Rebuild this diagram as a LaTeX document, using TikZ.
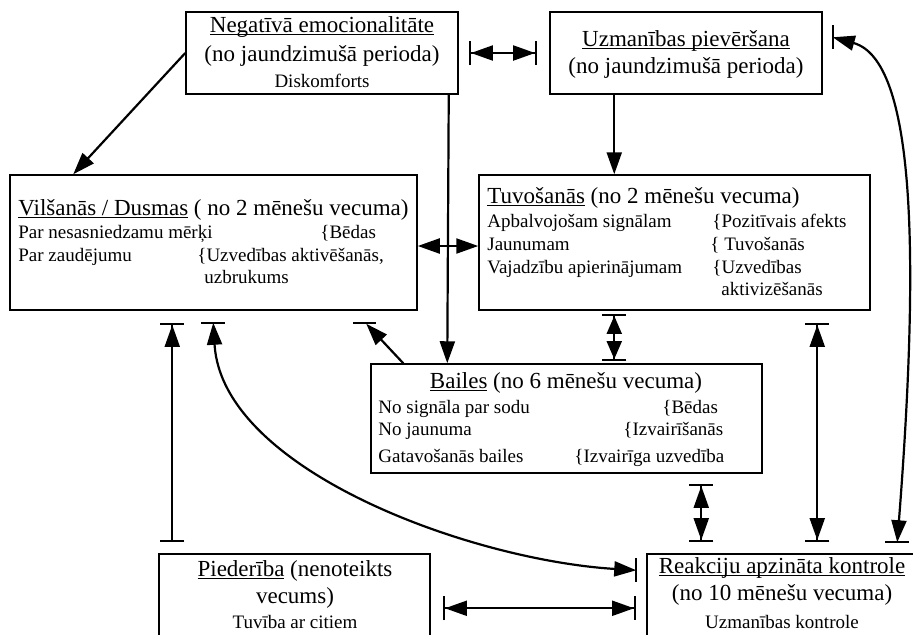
\documentclass[tikz,border=0pt]{standalone}
\usepackage{fontspec}
\setmainfont{Liberation Serif}
\usetikzlibrary{arrows.meta,calc,fit}
\newsavebox\ulbox
\newcommand{\ulx}[1]{\sbox\ulbox{#1}\rlap{\rule[-1.6pt]{\wd\ulbox}{0.55pt}}\usebox\ulbox}
\tikzset{
  box/.style={draw, line width=0.75pt, inner sep=0pt},
  big/.style={inner sep=0pt, font=\fontsize{11.5}{14}\selectfont},
  small/.style={inner sep=0pt, font=\fontsize{9.5}{11.5}\selectfont},
  conn/.style={line width=1.1pt},
  arr/.style={conn, -{Triangle[length=11pt,width=7.5pt]}},
  both/.style={conn, {Triangle[length=11pt,width=7.5pt]}-{Triangle[length=11pt,width=7.5pt]}},
  bothbar/.style={conn, {Bar[width=12pt]Triangle[length=11pt,width=7.5pt]}-{Triangle[length=11pt,width=7.5pt]Bar[width=12pt]}},
  shortbar/.style={conn, {Bar[width=12pt]Triangle[length=9pt,width=7.5pt]}-{Triangle[length=9pt,width=7.5pt]Bar[width=12pt]}},
  upbar/.style={conn, {Bar[width=12pt]}-{Triangle[length=11pt,width=7.5pt]Bar[width=12pt]}},
  barline/.style={line width=1.2pt}
}
\begin{document}
\begin{tikzpicture}[x=0.5pt,y=-0.5pt]
\useasboundingbox (0,0) rectangle (913,634);
\clip (0,0) rectangle (913,634);
% boxes
\node[box, fit={(186,12) (458,94)}] (neg) {};
\node[box, fit={(550,12) (822,94)}] (uzm) {};
\node[box, fit={(10,175) (417,310)}] (vil) {};
\node[box, fit={(479,175) (870,310)}] (tuv) {};
\node[box, fit={(371,364) (762,473)}] (bai) {};
\node[box, fit={(159,554) (430,650)}] (pie) {};
\node[box, fit={(647,554) (918,650)}] (rea) {};
% neg
\node[big, anchor=base] (negA) at (322,32) {\ulx{Negatīvā emocionalitāte}};
\node[big, anchor=base] (negB) at (322,61) {(no jaundzimušā perioda)};
\node[small, anchor=base] (negC) at (322,87) {Diskomforts};
% uzm
\node[big, anchor=base] (uzmA) at (686,46) {\ulx{Uzmanības pievēršana}};
\node[big, anchor=base] (uzmB) at (686,73) {(no jaundzimušā perioda)};
% vil
\node[big, anchor=base west] (vilA) at (18,215) {\ulx{Vilšanās / Dusmas} ( no 2 mēnešu vecuma)};
\node[small, anchor=base west] (vilB) at (18,238) {Par nesasniedzamu mērķi};
\node[small, anchor=base west] (vilC) at (320,238) {\{Bēdas};
\node[small, anchor=base west] (vilD) at (18,261) {Par zaudējumu};
\node[small, anchor=base west] (vilE) at (197,261) {\{Uzvedības aktivēšanās,};
\node[small, anchor=base west] (vilF) at (204,283) {uzbrukums};
% tuv
\node[big, anchor=base west] (tuvA) at (487,203) {\ulx{Tuvošanās} (no 2 mēnešu vecuma)};
\node[small, anchor=base west] (tuvB) at (487,227) {Apbalvojošam signālam};
\node[small, anchor=base west] (tuvC) at (712,227) {\{Pozitīvais afekts};
\node[small, anchor=base west] (tuvD) at (487,250) {Jaunumam};
\node[small, anchor=base west] (tuvE) at (710,250) {\{ Tuvošanās};
\node[small, anchor=base west] (tuvF) at (487,273) {Vajadzību apierinājumam};
\node[small, anchor=base west] (tuvG) at (712,273) {\{Uzvedības};
\node[small, anchor=base west] (tuvH) at (721,295) {aktivizēšanās};
% bai
\node[big, anchor=base] (baiA) at (566,388) {\ulx{Bailes} (no 6 mēnešu vecuma)};
\node[small, anchor=base west] (baiB) at (378,413) {No signāla par sodu};
\node[small, anchor=base west] (baiC) at (662,413) {\{Bēdas};
\node[small, anchor=base west] (baiD) at (378,435) {No jaunuma};
\node[small, anchor=base west] (baiE) at (623,435) {\{Izvairīšanās};
\node[small, anchor=base west] (baiF) at (378,462) {Gatavošanās bailes};
\node[small, anchor=base west] (baiG) at (574,462) {\{Izvairīga uzvedība};
% pie
\node[big, anchor=base] (pieA) at (295,576) {\ulx{Piederība} (nenoteikts};
\node[big, anchor=base] (pieB) at (295,603) {vecums)};
\node[small, anchor=base] (pieC) at (295,628) {Tuvība ar citiem};
% rea
\node[big, anchor=base] (reaA) at (782,573) {\ulx{Reakciju apzināta kontrole}};
\node[big, anchor=base] (reaB) at (782,600) {(no 10 mēnešu vecuma)};
\node[small, anchor=base] (reaC) at (782,628) {Uzmanības kontrole};
% end points of the connectors
\coordinate (c9a) at ($(rea.north west)+(251,-11)$);
\coordinate (c9b) at ($(uzm.north east)+(10,26)$);
\coordinate (c11a) at ($(vil.south west)+(204,12)$);
\coordinate (c11b) at ($(rea.north west)+(-10,17)$);
\coordinate (c12b) at ($(vil.south west)+(357,13)$);
% connectors
\draw[arr] (neg.west) -- ($(vil.north west)+(64,0)$);
\draw[arr] ($(neg.south east)+(-10,0)$) -- ($(bai.north west)+(77,0)$);
\draw[both] ($(vil.east)+(0,3.5)$) -- ($(tuv.west)+(0,3.5)$);
\draw[bothbar] ($(neg.east)+(10,0)$) -- ($(uzm.west)+(-12,0)$);
\draw[arr] ($(uzm.south west)+(65,0)$) -- ($(tuv.north west)+(136,0)$);
\draw[shortbar] ($(tuv.south west)+(136,3)$) -- ($(bai.north west)+(244,-2)$);
\draw[bothbar] ($(bai.south west)+(331,10)$) -- ($(rea.north west)+(55,-11)$);
\draw[bothbar] ($(tuv.south west)+(339,12)$) -- ($(rea.north west)+(171,-11)$);
\draw[both] (c9a) .. controls (920,250) and (915,60) .. (c9b);
\draw[barline] ($(c9a)+(-12,0)$) -- ($(c9a)+(12,0)$);
\draw[barline] ($(c9b)+(0,-12)$) -- ($(c9b)+(0,12)$);
\draw[upbar] ($(pie.north west)+(14,-11)$) -- ($(vil.south west)+(163,12)$);
\draw[both] (c11a) .. controls (222,470) and (470,560) .. (c11b);
\draw[barline] ($(c11a)+(-12,0)$) -- ($(c11a)+(12,0)$);
\draw[barline] ($(c11b)+(0,-12)$) -- ($(c11b)+(0,12)$);
\draw[arr] ($(bai.north west)+(33,0)$) -- (c12b);
\draw[barline] ($(c12b)+(-13,-1)$) -- ($(c12b)+(10,-1)$);
\draw[bothbar] ($(pie.north east)+(12,55)$) -- ($(rea.north west)+(-10,55)$);
\end{tikzpicture}
\end{document}
